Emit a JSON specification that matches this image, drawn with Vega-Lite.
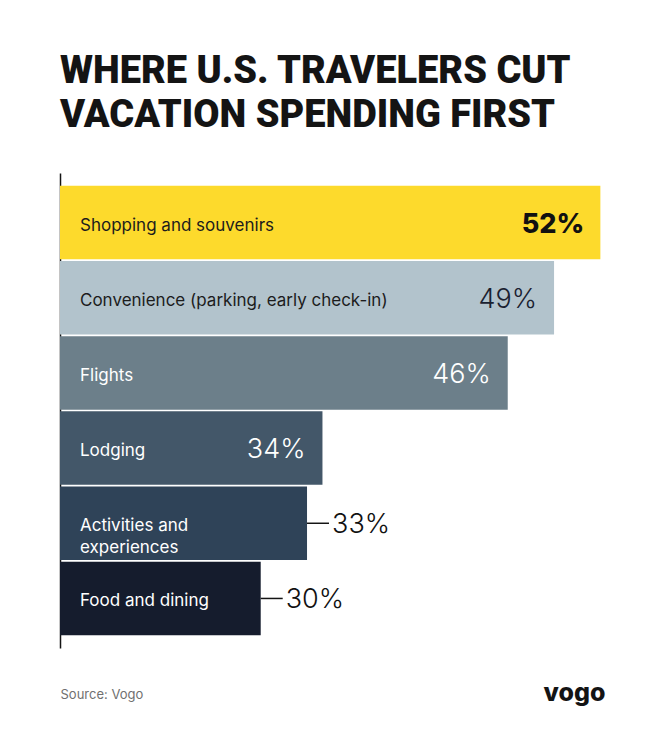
{
  "$schema": "https://vega.github.io/schema/vega-lite/v6.json",
  "width": 545,
  "height": 475,
  "autosize": {"type": "none"},
  "padding": {"top": 173, "left": 60, "right": 60, "bottom": 102},
  "background": "white",
  "config": {"view": {"stroke": null}, "font": "Inter"},
  "title": {
    "text": ["WHERE U.S. TRAVELERS CUT", "VACATION SPENDING FIRST"],
    "anchor": "start",
    "frame": "group",
    "font": "Roboto",
    "fontSize": 38,
    "fontWeight": 900,
    "lineHeight": 44,
    "color": "#141414",
    "baseline": "alphabetic",
    "offset": 8
  },
  "data": {
    "values": [
      {"category": "Shopping and souvenirs", "label": "Shopping and souvenirs", "value": 52, "pct": "52%"},
      {"category": "Convenience (parking, early check-in)", "label": "Convenience (parking, early check-in)", "value": 49, "pct": "49%"},
      {"category": "Flights", "label": "Flights", "value": 46, "pct": "46%"},
      {"category": "Lodging", "label": "Lodging", "value": 34, "pct": "34%"},
      {"category": "Activities and experiences", "label": ["Activities and", "experiences"], "value": 33, "pct": "33%"},
      {"category": "Food and dining", "label": "Food and dining", "value": 30, "pct": "30%"}
    ]
  },
  "encoding": {
    "y": {
      "field": "category",
      "type": "nominal",
      "sort": ["Shopping and souvenirs", "Convenience (parking, early check-in)", "Flights", "Lodging", "Activities and experiences", "Food and dining"],
      "scale": {"paddingInner": 0.022, "paddingOuter": 0.17},
      "axis": {"labels": false, "ticks": false, "title": null, "domain": true, "domainColor": "#141414", "domainWidth": 1.5, "grid": false}
    }
  },
  "layer": [
    {
      "mark": {"type": "bar"},
      "encoding": {
        "x": {
          "field": "value",
          "type": "quantitative",
          "scale": {"domain": [17, 52.3], "nice": false, "zero": false},
          "axis": {
            "values": [52.3],
            "labelExpr": "'vogo'",
            "labelAlign": "right",
            "labelBaseline": "alphabetic",
            "labelFont": "Inter",
            "labelFontSize": 25,
            "labelFontWeight": 800,
            "labelColor": "#141414",
            "labelPadding": 52,
            "labelFlush": false,
            "tickSize": 0,
            "ticks": false,
            "domain": false,
            "grid": false,
            "title": "Source: Vogo",
            "titleAnchor": "start",
            "titleAlign": "left",
            "titleBaseline": "alphabetic",
            "titleX": 0,
            "titleY": 50,
            "titleFont": "Inter",
            "titleFontSize": 13,
            "titleFontWeight": "normal",
            "titleColor": "#707070"
          }
        },
        "x2": {"datum": 17},
        "color": {
          "field": "category",
          "type": "nominal",
          "legend": null,
          "scale": {
            "domain": ["Shopping and souvenirs", "Convenience (parking, early check-in)", "Flights", "Lodging", "Activities and experiences", "Food and dining"],
            "range": ["#FDDA2C", "#B2C3CC", "#6C7F8A", "#435769", "#2F4358", "#151C2D"]
          }
        }
      }
    },
    {
      "mark": {"type": "text", "align": "left", "baseline": "middle", "dx": 20, "dy": 3, "font": "Inter", "fontSize": 17, "lineHeight": 22},
      "encoding": {
        "x": {"datum": 17, "type": "quantitative"},
        "text": {"field": "label"},
        "color": {
          "condition": {"test": "datum.value >= 49", "value": "#1c1c1c"},
          "value": "#ffffff"
        }
      }
    },
    {
      "transform": [{"filter": "datum.category == 'Shopping and souvenirs'"}],
      "mark": {"type": "text", "align": "right", "baseline": "middle", "dx": -16, "dy": 2, "font": "Inter", "fontSize": 27, "fontWeight": 800, "color": "#111111"},
      "encoding": {
        "x": {"field": "value", "type": "quantitative"},
        "text": {"field": "pct"}
      }
    },
    {
      "transform": [{"filter": "datum.category == 'Convenience (parking, early check-in)' || datum.category == 'Flights' || datum.category == 'Lodging'"}],
      "mark": {"type": "text", "align": "right", "baseline": "middle", "dx": -17, "dy": 2, "font": "Inter", "fontSize": 27, "fontWeight": 300},
      "encoding": {
        "x": {"field": "value", "type": "quantitative"},
        "text": {"field": "pct"},
        "color": {
          "condition": {"test": "datum.category == 'Convenience (parking, early check-in)'", "value": "#1a2130"},
          "value": "#ffffff"
        }
      }
    },
    {
      "transform": [{"filter": "datum.value <= 33"}],
      "mark": {"type": "rule", "x2Offset": 22, "strokeWidth": 1.5, "color": "#141414"},
      "encoding": {
        "x": {"field": "value", "type": "quantitative"},
        "x2": {"field": "value"}
      }
    },
    {
      "transform": [{"filter": "datum.value <= 33"}],
      "mark": {"type": "text", "align": "left", "baseline": "middle", "dx": 25, "dy": 2, "font": "Inter", "fontSize": 27, "fontWeight": 300, "color": "#111111"},
      "encoding": {
        "x": {"field": "value", "type": "quantitative"},
        "text": {"field": "pct"}
      }
    }
  ]
}
